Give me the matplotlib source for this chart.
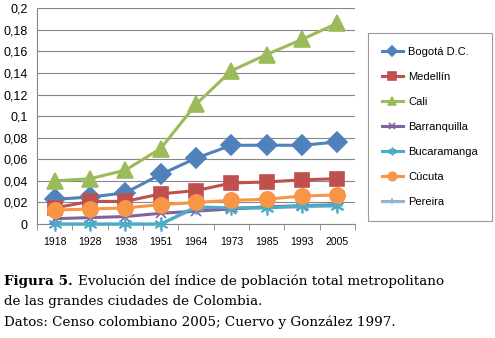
import matplotlib.pyplot as plt

years = ['1918', '1928', '1938', '1951', '1964', '1973', '1985', '1993', '2005']
bogota = [0.023, 0.025, 0.029, 0.046, 0.061, 0.073, 0.073, 0.073, 0.076]
medellin = [0.015, 0.021, 0.021, 0.028, 0.031, 0.038, 0.039, 0.041, 0.042]
cali = [0.040, 0.042, 0.050, 0.070, 0.111, 0.142, 0.157, 0.171, 0.186]
barranquilla = [0.005, 0.006, 0.007, 0.010, 0.012, 0.014, 0.016, 0.017, 0.018]
bucaramanga = [0.0, 0.0, 0.0, 0.0, 0.016, 0.015, 0.015, 0.017, 0.017]
cucuta = [0.013, 0.014, 0.015, 0.018, 0.020, 0.022, 0.023, 0.026, 0.027]
pereira = [0.0, 0.0, 0.0, 0.0, 0.015, 0.015, 0.015, 0.016, 0.017]
yticks = [0, 0.02, 0.04, 0.06, 0.08, 0.1, 0.12, 0.14, 0.16, 0.18, 0.2]

sans = ['Liberation Sans Narrow', 'Liberation Sans', 'DejaVu Sans']

fig = plt.figure(figsize=(4.95, 3.38), dpi=100)
ax = fig.add_axes([0.075, 0.337, 0.642, 0.639])

x = list(range(len(years)))
# pereira drawn underneath, hidden by bucaramanga
series = [
    ('Pereira', pereira, '#95B3D7', '+', 8, 1),
    ('Bogotá D.C.', bogota, '#4F81BD', 'D', 10, 3),
    ('Medellín', medellin, '#C0504D', 's', 9.5, 3),
    ('Cali', cali, '#9BBB59', '^', 11.5, 3),
    ('Barranquilla', barranquilla, '#8064A2', 'x', 7.5, 3),
    ('Bucaramanga', bucaramanga, '#4BACC6', (6, 2, 0), 10, 3),
    ('Cúcuta', cucuta, '#F79646', 'o', 11, 3),
]
handles = {}
for name, vals, col, mk, ms, z in series:
    h, = ax.plot(x, vals, color=col, lw=2.2, marker=mk, ms=ms, mew=1.2,
                 mec=col, mfc=col, zorder=z, label=name, clip_on=False)
    handles[name] = h

order = ['Bogotá D.C.', 'Medellín', 'Cali', 'Barranquilla', 'Bucaramanga', 'Cúcuta', 'Pereira']
leg = fig.legend([handles[n] for n in order], order, loc='upper left',
                 bbox_to_anchor=(368 / 495, 1 - 33 / 338), frameon=True, fancybox=False,
                 edgecolor='#808080', prop={'family': sans, 'size': 8},
                 handlelength=1.9, handletextpad=0.45, labelspacing=1.35, borderpad=1.25,
                 borderaxespad=0, markerscale=0.55)
leg.get_frame().set_linewidth(0.8)
for line in leg.get_lines():
    line.set_linewidth(2.2)

ax.set_xlim(-0.5, len(years) - 0.5)
ax.set_ylim(0, 0.2)
ax.set_yticks(yticks)
ax.set_yticklabels([('%g' % v).replace('.', ',') for v in yticks], family=sans, fontsize=9)
ax.set_xticks(x)
ax.set_xticklabels(years, family=sans, fontsize=7.5)
ax.set_xticks([i - 0.5 for i in range(len(years) + 1)], minor=True)
ax.tick_params(axis='x', which='major', length=0, pad=9)
ax.tick_params(axis='x', which='minor', length=4, color='#868686')
ax.tick_params(axis='y', length=0, pad=7)
ax.grid(axis='y', color='#868686', lw=0.8)
ax.set_axisbelow(True)
for s in ['top', 'right']:
    ax.spines[s].set_visible(False)
for s in ['left', 'bottom']:
    ax.spines[s].set_color('#868686')

serif = 'DejaVu Serif'
cap_size = 9.7
head = fig.text(0.008, 0.157, 'Figura 5.', family=serif, fontsize=cap_size, weight='bold', va='baseline')
fig.canvas.draw()
bb = head.get_window_extent().transformed(fig.transFigure.inverted())
fig.text(bb.x1 + 0.01, 0.157, 'Evolución del índice de población total metropolitano',
         family=serif, fontsize=cap_size, va='baseline')
fig.text(0.008, 0.098, 'de las grandes ciudades de Colombia.', family=serif, fontsize=cap_size, va='baseline')
fig.text(0.008, 0.036, 'Datos: Censo colombiano 2005; Cuervo y González 1997.',
         family=serif, fontsize=cap_size, va='baseline')

fig.savefig('out.png', dpi=100)
